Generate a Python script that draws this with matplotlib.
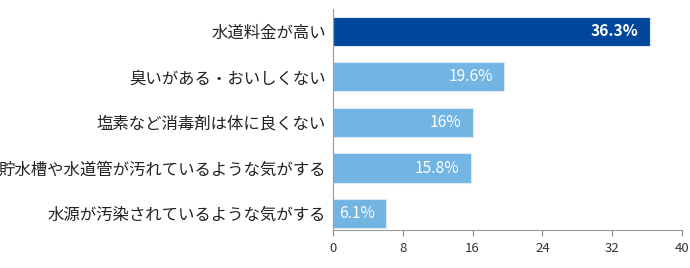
import matplotlib
matplotlib.use("Agg")
import matplotlib.pyplot as plt

plt.rcParams['font.family'] = ['Noto Sans CJK JP', 'DejaVu Sans']

# データ
labels = ["水道料金が高い", "臭いがある・おいしくない", "塩素など消毒剤は体に良くない",
          "貯水槽や水道管が汚れているような気がする", "水源が汚染されているような気がする"]
values = [36.3, 19.6, 16, 15.8, 6.1]
value_texts = ["36.3%", "19.6%", "16%", "15.8%", "6.1%"]
xticks = [0, 8, 16, 24, 32, 40]

dark = "#00469b"
light = "#72b4e2"
colors = [dark] + [light] * (len(values) - 1)

fig = plt.figure(figsize=(6.9, 2.68), dpi=100)
ax = fig.add_axes([333 / 690, 1 - 230 / 268, (682 - 333) / 690, (230 - 9) / 268])

pos = list(range(len(values)))
ax.barh(pos, values, height=0.64, color=colors, edgecolor="#dbe8f5", linewidth=0.8)

for i, (v, t) in enumerate(zip(values, value_texts)):
    ax.annotate(t, xy=(v, i), xytext=(-8, 0), textcoords="offset points",
                ha="right", va="center", color="white", fontsize=11.2,
                fontweight="bold" if i == 0 else "normal")

ax.set_xlim(0, 40)
ax.set_ylim(4.36, -0.49)
ax.set_xticks(xticks)
ax.set_xticklabels([str(x) for x in xticks], fontsize=9.5, color="#333333")
ax.set_yticks(pos)
ax.set_yticklabels(labels, fontsize=11.8, color="#222222")
ax.tick_params(axis="y", length=0, pad=5)
ax.tick_params(axis="x", length=4, color="#888888", pad=5)

for s in ["top", "right"]:
    ax.spines[s].set_visible(False)
ax.spines["left"].set_color("#999999")
ax.spines["bottom"].set_color("#999999")

fig.savefig("out.png", dpi=100)
